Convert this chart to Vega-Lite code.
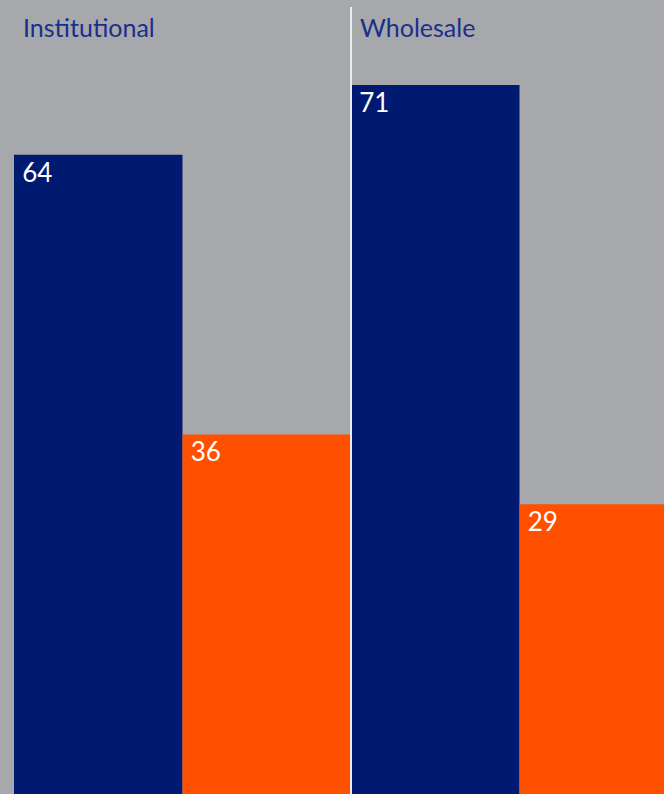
{
  "$schema": "https://vega.github.io/schema/vega-lite/v6.json",
  "width": 664,
  "height": 794,
  "autosize": {"type": "none"},
  "padding": 0,
  "background": "#a7a8ab",
  "config": {"view": {"stroke": null}, "font": "Lato"},
  "data": {
    "values": [
      {"group": "Institutional", "series": "A", "value": 64},
      {"group": "Institutional", "series": "B", "value": 36},
      {"group": "Wholesale", "series": "A", "value": 71},
      {"group": "Wholesale", "series": "B", "value": 29}
    ]
  },
  "encoding": {
    "x": {
      "field": "group",
      "type": "nominal",
      "axis": null,
      "scale": {"domain": ["Institutional", "Wholesale"], "range": [14, 688], "paddingInner": 0, "paddingOuter": 0}
    },
    "xOffset": {
      "field": "series",
      "type": "nominal",
      "scale": {"domain": ["A", "B"], "paddingInner": 0, "paddingOuter": 0}
    }
  },
  "layer": [
    {
      "mark": {"type": "bar", "clip": true},
      "encoding": {
        "y": {"field": "value", "type": "quantitative", "axis": null, "scale": {"domain": [0, 79.5], "nice": false, "zero": true}},
        "color": {"field": "series", "type": "nominal", "legend": null, "scale": {"domain": ["A", "B"], "range": ["#001a72", "#ff5000"]}}
      }
    },
    {
      "mark": {"type": "text", "align": "left", "baseline": "top", "dx": -76, "dy": 6, "fontSize": 26, "color": "white", "clip": true},
      "encoding": {
        "y": {"field": "value", "type": "quantitative"},
        "text": {"field": "value", "type": "quantitative"}
      }
    },
    {
      "data": {"values": [{"group": "Institutional"}, {"group": "Wholesale"}]},
      "mark": {"type": "text", "align": "left", "baseline": "alphabetic", "dx": 9, "fontSize": 25, "color": "#1a2f8c"},
      "encoding": {
        "x": {"field": "group", "type": "nominal", "bandPosition": 0},
        "xOffset": null,
        "y": {"datum": 75.8, "type": "quantitative"},
        "text": {"field": "group", "type": "nominal"}
      }
    },
    {
      "data": {"values": [{"group": "Wholesale"}]},
      "mark": {"type": "rule", "strokeWidth": 2, "color": "#ececec"},
      "encoding": {
        "x": {"field": "group", "type": "nominal", "bandPosition": 0},
        "xOffset": null,
        "y": {"datum": 78.8, "type": "quantitative"},
        "y2": {"datum": 0}
      }
    }
  ],
  "resolve": {"scale": {"y": "shared"}}
}
